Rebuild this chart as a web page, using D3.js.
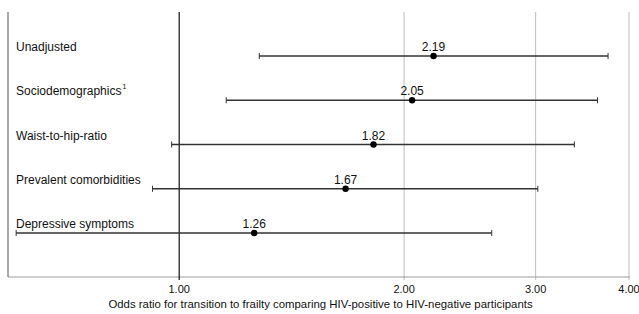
<!DOCTYPE html>
<html>
<head>
<meta charset="utf-8">
<script src="https://cdn.jsdelivr.net/npm/d3@7"></script>
<style>
  body { margin: 0; background: #fff; }
  text { font-family: Arial, "Liberation Sans", sans-serif; fill: #111; }
</style>
</head>
<body>
<div id="chart"></div>
<script>
const width = 639;
const height = 314;

// model rows, top to bottom
const models = ["Unadjusted", "Sociodemographics", "Waist-to-hip-ratio", "Prevalent comorbidities", "Depressive symptoms"];
const superscripts = ["", "1", "", "", ""];
const oddsRatios = [2.19, 2.05, 1.82, 1.67, 1.26];
const lowerCI = [1.28, 1.156, 0.977, 0.921, 0.605];
const upperCI = [3.75, 3.63, 3.38, 3.02, 2.62];
const tickValues = [1, 2, 3, 4];
const axisTitle = "Odds ratio for transition to frailty comparing HIV-positive to HIV-negative participants";

const margin = { top: 12, right: 10, bottom: 37, left: 8 };
const plotW = width - margin.left - margin.right;
const plotH = height - margin.top - margin.bottom;

const svg = d3.select("#chart")
    .append("svg")
    .attr("width", width)
    .attr("height", height);

const g = svg.append("g")
    .attr("transform", "translate(" + margin.left + "," + margin.top + ")");

const x = d3.scaleLog()
    .domain([0.59, 4.0])
    .range([0, plotW]);

const y = d3.scalePoint()
    .domain(models)
    .range([44, 221]);

// grid lines at 2,3,4
g.selectAll("line.grid")
    .data(tickValues.filter(t => t !== 1))
    .enter()
    .append("line")
    .attr("class", "grid")
    .attr("x1", d => x(d)).attr("x2", d => x(d))
    .attr("y1", 0).attr("y2", plotH + 3)
    .attr("stroke", "#bdbdbd")
    .attr("stroke-width", 1);

// bottom axis line
g.append("line")
    .attr("x1", 0).attr("x2", plotW + 1)
    .attr("y1", plotH).attr("y2", plotH)
    .attr("stroke", "#9a9a9a");

// left frame line
g.append("line")
    .attr("x1", 0).attr("x2", 0)
    .attr("y1", 0).attr("y2", plotH)
    .attr("stroke", "#555");

// reference line at OR = 1
g.append("line")
    .attr("x1", x(1)).attr("x2", x(1))
    .attr("y1", 0).attr("y2", plotH + 3)
    .attr("stroke", "#111")
    .attr("stroke-width", 1.2);

// tick labels
g.selectAll("text.tick")
    .data(tickValues)
    .enter()
    .append("text")
    .attr("class", "tick")
    .attr("x", d => x(d))
    .attr("y", plotH + 16)
    .attr("text-anchor", "middle")
    .style("font-size", "11px")
    .text(d => d.toFixed(2));

// axis title
g.append("text")
    .attr("x", plotW / 2 + 2)
    .attr("y", plotH + 31)
    .attr("text-anchor", "middle")
    .style("font-size", "11.4px")
    .text(axisTitle);

const rows = models.map((m, i) => ({
    name: m, sup: superscripts[i], or: oddsRatios[i], lo: lowerCI[i], hi: upperCI[i]
}));

const row = g.selectAll("g.row")
    .data(rows)
    .enter()
    .append("g")
    .attr("class", "row")
    .attr("transform", d => "translate(0," + y(d.name) + ")");

// CI line
row.append("line")
    .attr("x1", d => x(d.lo)).attr("x2", d => x(d.hi))
    .attr("y1", 0).attr("y2", 0)
    .attr("stroke", "#333")
    .attr("stroke-width", 1.3);

// caps
row.append("line")
    .attr("x1", d => x(d.lo)).attr("x2", d => x(d.lo))
    .attr("y1", -3).attr("y2", 3)
    .attr("stroke", "#333");
row.append("line")
    .attr("x1", d => x(d.hi)).attr("x2", d => x(d.hi))
    .attr("y1", -3).attr("y2", 3)
    .attr("stroke", "#333");

// point
row.append("circle")
    .attr("cx", d => x(d.or))
    .attr("cy", 0)
    .attr("r", 3.2)
    .attr("fill", "#000");

// value label
row.append("text")
    .attr("x", d => x(d.or))
    .attr("y", -5)
    .attr("text-anchor", "middle")
    .style("font-size", "12px")
    .text(d => d.or.toFixed(2));

// model label
const lbl = row.append("text")
    .attr("x", 8)
    .attr("y", -5)
    .style("font-size", "12px")
    .text(d => d.name);
lbl.filter(d => d.sup !== "")
    .append("tspan")
    .attr("dx", 1)
    .attr("dy", -6)
    .style("font-size", "7px")
    .text(d => d.sup);
</script>
</body>
</html>
